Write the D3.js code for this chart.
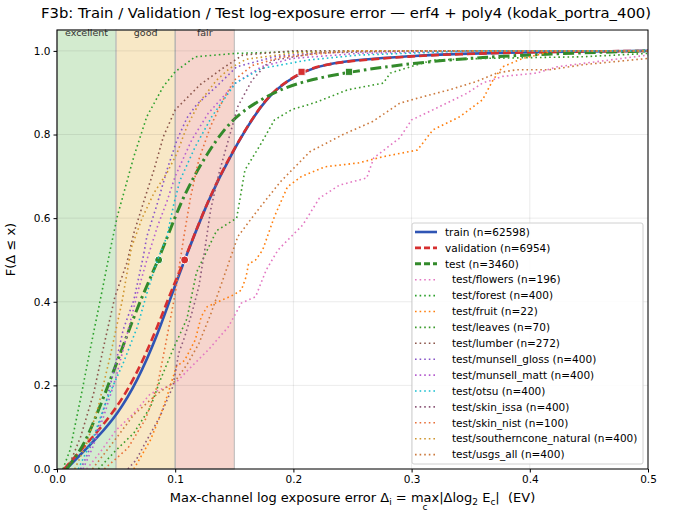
<!DOCTYPE html>
<html>
<head>
<meta charset="utf-8">
<script src="https://cdn.jsdelivr.net/npm/d3@7"></script>
<style>
body { margin: 0; background: #fff; }
svg text { font-family: "DejaVu Sans", sans-serif; }
</style>
</head>
<body>
<svg id="chart" width="690" height="525"></svg>
<script>
// quality bands (EV)
var bandNames = ["excellent", "good", "fair"];
var bandEdges = [0, 0.05, 0.10, 0.15];
var bandColors = ["#d3ebcf", "#f8e8c6", "#f6d5cd"];

var xTicks = [0, 0.1, 0.2, 0.3, 0.4, 0.5];
var yTicks = [0, 0.2, 0.4, 0.6, 0.8, 1.0];

// CDFs: [error EV, F]
var train = [[0.008,0],[0.02,0.035],[0.034,0.075],[0.051,0.13],[0.068,0.21],[0.085,0.32],[0.1,0.44],[0.108,0.5],[0.128,0.645],[0.148,0.757],[0.168,0.851],[0.184,0.908],[0.208,0.951],[0.227,0.968],[0.255,0.979],[0.3,0.988],[0.332,0.993],[0.417,0.998],[0.5,1.0]];
var validation = [[0.006,0],[0.018,0.038],[0.032,0.082],[0.049,0.14],[0.066,0.218],[0.083,0.325],[0.099,0.443],[0.108,0.5],[0.128,0.646],[0.148,0.758],[0.168,0.852],[0.184,0.909],[0.208,0.952],[0.227,0.968],[0.255,0.978],[0.3,0.987],[0.332,0.992],[0.417,0.998],[0.5,1.0]];
var test = [[0.008,0],[0.02,0.045],[0.028,0.09],[0.042,0.19],[0.056,0.295],[0.0705,0.405],[0.086,0.5],[0.1,0.605],[0.111,0.675],[0.127,0.755],[0.142,0.815],[0.156,0.855],[0.182,0.9],[0.207,0.927],[0.247,0.95],[0.304,0.972],[0.36,0.985],[0.417,0.993],[0.5,1.0]];

var flowers = [[0.025,0],[0.036,0.038],[0.05,0.093],[0.065,0.133],[0.079,0.18],[0.1,0.205],[0.112,0.24],[0.128,0.285],[0.145,0.34],[0.156,0.397],[0.168,0.412],[0.177,0.476],[0.187,0.524],[0.208,0.584],[0.222,0.648],[0.239,0.679],[0.262,0.696],[0.268,0.744],[0.29,0.792],[0.3,0.835],[0.318,0.859],[0.347,0.899],[0.36,0.923],[0.377,0.939],[0.406,0.947],[0.423,0.962],[0.445,0.97],[0.5,0.99]];
var forest = [[0.005,0],[0.011,0.045],[0.0197,0.165],[0.028,0.285],[0.0366,0.404],[0.045,0.524],[0.051,0.604],[0.065,0.747],[0.076,0.843],[0.09,0.915],[0.1,0.95],[0.117,0.986],[0.151,0.994],[0.2,0.998],[0.3,1.0],[0.5,1.0]];
var fruit = [[0.065,0],[0.079,0.069],[0.087,0.125],[0.093,0.173],[0.101,0.245],[0.108,0.26],[0.117,0.309],[0.122,0.364],[0.127,0.388],[0.134,0.397],[0.149,0.416],[0.156,0.428],[0.16,0.46],[0.162,0.49],[0.168,0.5],[0.174,0.524],[0.184,0.604],[0.195,0.675],[0.207,0.7],[0.227,0.723],[0.255,0.732],[0.276,0.747],[0.305,0.763],[0.318,0.811],[0.341,0.843],[0.36,0.883],[0.369,0.931],[0.377,0.962],[0.394,0.982],[0.406,0.99],[0.42,1.0],[0.5,1.0]];
var leaves = [[0.035,0],[0.05,0.045],[0.065,0.086],[0.079,0.148],[0.087,0.21],[0.098,0.285],[0.11,0.36],[0.118,0.47],[0.135,0.57],[0.152,0.6],[0.159,0.715],[0.173,0.78],[0.184,0.835],[0.199,0.86],[0.218,0.876],[0.246,0.907],[0.276,0.923],[0.282,0.947],[0.299,0.962],[0.318,0.978],[0.36,0.982],[0.445,0.986],[0.5,0.994]];
var lumber = [[0.005,0],[0.011,0.014],[0.02,0.077],[0.031,0.181],[0.0395,0.293],[0.049,0.412],[0.059,0.492],[0.065,0.564],[0.073,0.636],[0.082,0.715],[0.09,0.795],[0.1,0.859],[0.121,0.919],[0.14,0.958],[0.157,0.99],[0.2,1.0],[0.5,1.0]];
var munsellGloss = [[0.02,0],[0.025,0.03],[0.034,0.093],[0.042,0.165],[0.051,0.269],[0.056,0.333],[0.065,0.404],[0.073,0.508],[0.076,0.556],[0.085,0.636],[0.093,0.715],[0.1015,0.787],[0.11,0.84],[0.118,0.871],[0.135,0.915],[0.152,0.962],[0.184,0.986],[0.227,0.998],[0.3,1.0],[0.5,1.0]];
var munsellMatt = [[0.022,0],[0.03,0.05],[0.04,0.13],[0.05,0.22],[0.06,0.33],[0.068,0.42],[0.076,0.5],[0.085,0.58],[0.093,0.64],[0.1,0.7],[0.114,0.787],[0.128,0.851],[0.151,0.923],[0.173,0.962],[0.199,0.982],[0.255,0.994],[0.35,1.0],[0.5,1.0]];
var otsu = [[0.018,0],[0.023,0.03],[0.031,0.077],[0.042,0.165],[0.056,0.253],[0.068,0.34],[0.076,0.42],[0.085,0.5],[0.093,0.556],[0.099,0.636],[0.104,0.69],[0.117,0.771],[0.131,0.843],[0.151,0.923],[0.173,0.958],[0.212,0.978],[0.255,0.99],[0.35,1.0],[0.5,1.0]];
var skinIssa = [[0.06,0],[0.067,0.022],[0.076,0.069],[0.087,0.125],[0.098,0.197],[0.103,0.277],[0.108,0.316],[0.114,0.372],[0.12,0.436],[0.125,0.524],[0.13,0.62],[0.137,0.707],[0.145,0.787],[0.153,0.867],[0.165,0.93],[0.177,0.967],[0.184,0.978],[0.22,0.995],[0.3,1.0],[0.5,1.0]];
var skinNist = [[0.04,0],[0.06,0.05],[0.075,0.12],[0.085,0.2],[0.092,0.3],[0.1,0.42],[0.107,0.55],[0.113,0.65],[0.12,0.74],[0.13,0.82],[0.14,0.88],[0.15,0.93],[0.165,0.965],[0.19,0.985],[0.25,1.0],[0.5,1.0]];
var southernconeNatural = [[0.015,0],[0.025,0.06],[0.035,0.15],[0.045,0.27],[0.055,0.4],[0.063,0.53],[0.072,0.6],[0.082,0.66],[0.093,0.708],[0.1015,0.755],[0.11,0.82],[0.121,0.879],[0.135,0.93],[0.146,0.958],[0.16,0.98],[0.2,0.995],[0.25,1.0],[0.5,1.0]];
var usgsAll = [[0.03,0],[0.051,0.077],[0.065,0.13],[0.085,0.18],[0.1,0.21],[0.11,0.25],[0.12,0.3],[0.13,0.37],[0.14,0.45],[0.153,0.556],[0.169,0.616],[0.189,0.687],[0.214,0.759],[0.242,0.8],[0.267,0.831],[0.29,0.875],[0.305,0.887],[0.332,0.907],[0.355,0.927],[0.372,0.947],[0.389,0.955],[0.417,0.955],[0.445,0.967],[0.5,0.982]];

var mainSeries = [
	{label: "train (n=62598)", data: train, color: "#2f55b4", dash: null, width: 2.6},
	{label: "validation (n=6954)", data: validation, color: "#d62f2f", dash: "8,4", width: 2.6},
	{label: "test (n=3460)", data: test, color: "#338a2b", dash: "11,4,2.5,4", width: 3}
];
var subSeries = [
	{label: "test/flowers (n=196)", data: flowers, color: "#e377c2"},
	{label: "test/forest (n=400)", data: forest, color: "#2ca02c"},
	{label: "test/fruit (n=22)", data: fruit, color: "#ff7f0e"},
	{label: "test/leaves (n=70)", data: leaves, color: "#3a9a2a"},
	{label: "test/lumber (n=272)", data: lumber, color: "#8c564b"},
	{label: "test/munsell_gloss (n=400)", data: munsellGloss, color: "#8855c8"},
	{label: "test/munsell_matt (n=400)", data: munsellMatt, color: "#b65fcf"},
	{label: "test/otsu (n=400)", data: otsu, color: "#17becf"},
	{label: "test/skin_issa (n=400)", data: skinIssa, color: "#8e5a7a"},
	{label: "test/skin_nist (n=100)", data: skinNist, color: "#e8703a"},
	{label: "test/southerncone_natural (n=400)", data: southernconeNatural, color: "#d0962f"},
	{label: "test/usgs_all (n=400)", data: usgsAll, color: "#cc7a3e"}
];

var svg = d3.select("#chart"),
	margin = {top: 30, right: 42, bottom: 56, left: 57},
	width = +svg.attr("width") - margin.left - margin.right,
	height = +svg.attr("height") - margin.top - margin.bottom;

var g = svg.append("g").attr("transform", "translate(" + margin.left + "," + margin.top + ")");

var xScale = d3.scaleLinear().domain([0, 0.5]).range([0, width]),
	yScale = d3.scaleLinear().domain([0, 1.05]).range([height, 0]);

svg.append("clipPath").attr("id", "clip").append("rect").attr("width", width).attr("height", height);

// bands
bandNames.forEach(function(name, i) {
	g.append("rect")
		.attr("x", xScale(bandEdges[i]))
		.attr("y", 0)
		.attr("width", xScale(bandEdges[i + 1]) - xScale(bandEdges[i]))
		.attr("height", height)
		.attr("fill", bandColors[i])
		.attr("stroke", "#b8b8b8")
		.attr("stroke-width", 1);
	g.append("text")
		.attr("x", xScale((bandEdges[i] + bandEdges[i + 1]) / 2))
		.attr("y", 5.5)
		.attr("text-anchor", "middle")
		.style("font-size", "9.5px")
		.attr("fill", "#333")
		.text(name);
});

// grid
g.selectAll(".gx").data(xTicks).enter().append("line")
	.attr("x1", function(d) { return xScale(d); }).attr("x2", function(d) { return xScale(d); })
	.attr("y1", 0).attr("y2", height)
	.attr("stroke", "#000").attr("stroke-opacity", 0.1).attr("stroke-width", 0.8);
g.selectAll(".gy").data(yTicks).enter().append("line")
	.attr("y1", function(d) { return yScale(d); }).attr("y2", function(d) { return yScale(d); })
	.attr("x1", 0).attr("x2", width)
	.attr("stroke", "#000").attr("stroke-opacity", 0.1).attr("stroke-width", 0.8);

var line = d3.line()
	.x(function(d) { return xScale(d[0]); })
	.y(function(d) { return yScale(d[1]); });
var smooth = d3.line()
	.curve(d3.curveBasis)
	.x(function(d) { return xScale(d[0]); })
	.y(function(d) { return yScale(d[1]); });

var plot = g.append("g").attr("clip-path", "url(#clip)");

// x where F crosses q
function quantile(data, q) {
	for (var i = 1; i < data.length; i++) {
		if (data[i][1] >= q) {
			var a = data[i - 1], b = data[i];
			return a[0] + (q - a[1]) / (b[1] - a[1]) * (b[0] - a[0]);
		}
	}
	return data[data.length - 1][0];
}

mainSeries.forEach(function(s) {
	plot.append("path")
		.attr("d", smooth(s.data))
		.attr("fill", "none")
		.attr("stroke", s.color)
		.attr("stroke-width", s.width)
		.attr("stroke-dasharray", s.dash);
	var med = quantile(s.data, 0.5), q95 = quantile(s.data, 0.95);
	plot.append("circle")
		.attr("cx", xScale(med)).attr("cy", yScale(0.5)).attr("r", 4)
		.attr("fill", s.color).attr("stroke", "#fff").attr("stroke-width", 1);
	plot.append("rect")
		.attr("x", xScale(q95) - 3.5).attr("y", yScale(0.95) - 3.5)
		.attr("width", 7).attr("height", 7)
		.attr("fill", s.color).attr("stroke", "#fff").attr("stroke-width", 0.8);
});

subSeries.forEach(function(s) {
	plot.append("path")
		.attr("d", line(s.data))
		.attr("fill", "none")
		.attr("stroke", s.color)
		.attr("stroke-width", 1.6)
		.attr("stroke-dasharray", "1.6,3");
});

// axes
var xAxis = g.append("g")
	.attr("transform", "translate(0," + height + ")")
	.call(d3.axisBottom(xScale).tickValues(xTicks).tickFormat(d3.format(".1f")).tickSizeOuter(0).tickSize(3.5));
var yAxis = g.append("g")
	.call(d3.axisLeft(yScale).tickValues(yTicks).tickFormat(d3.format(".1f")).tickSizeOuter(0).tickSize(3.5));
[xAxis, yAxis].forEach(function(a) {
	a.select(".domain").remove();
	a.selectAll("text").style("font-size", "10.5px").attr("fill", "#000");
	a.selectAll("line").attr("stroke", "#000");
});
g.append("rect")
	.attr("width", width).attr("height", height)
	.attr("fill", "none").attr("stroke", "#000").attr("stroke-width", 1);

// legend
var legend = g.append("g").attr("transform", "translate(355,193)");
legend.append("rect")
	.attr("width", 231).attr("height", 241).attr("rx", 2)
	.attr("fill", "#fff").attr("fill-opacity", 0.85)
	.attr("stroke", "#d0d0d0");
var entries = mainSeries.map(function(s) { return {label: s.label, color: s.color, dash: s.dash, width: s.width, main: true}; })
	.concat(subSeries.map(function(s) { return {label: s.label, color: s.color, dash: "1.6,3", width: 1.6, main: false}; }));
entries.forEach(function(e, i) {
	var y = 9 + i * 15.9;
	legend.append("line")
		.attr("x1", 3).attr("x2", 25).attr("y1", y).attr("y2", y)
		.attr("stroke", e.color).attr("stroke-width", e.width)
		.attr("stroke-dasharray", e.main && e.dash ? "6,3" : e.dash);
	legend.append("text")
		.attr("x", e.main ? 33 : 40).attr("y", y + 3.7)
		.style("font-size", "10.5px")
		.text(e.label);
});

// titles
svg.append("text")
	.attr("x", 346).attr("y", 18)
	.attr("text-anchor", "middle")
	.style("font-size", "14.8px")
	.text("F3b: Train / Validation / Test log-exposure error — erf4 + poly4 (kodak_portra_400)");

svg.append("text")
	.attr("transform", "translate(15," + (margin.top + height / 2) + ") rotate(-90)")
	.attr("text-anchor", "middle")
	.style("font-size", "13px")
	.text("F(Δ ≤ x)");

var xl = svg.append("text")
	.attr("x", margin.left + width / 2).attr("y", 502)
	.attr("text-anchor", "middle")
	.style("font-size", "13px")
	.style("white-space", "pre");
xl.append("tspan").text("Max-channel log exposure error Δ");
xl.append("tspan").attr("dy", 3).style("font-size", "9px").text("i");
xl.append("tspan").attr("dy", -3).text(" = max|Δlog");
xl.append("tspan").attr("dy", 3).style("font-size", "9px").text("2");
xl.append("tspan").attr("dy", -3).text(" E");
xl.append("tspan").attr("dy", 3).style("font-size", "9px").text("c");
xl.append("tspan").attr("dy", -3).text("|  (EV)");
// subscript c under "max"
var full = xl.text();
var iM = full.indexOf("max");
var x0 = xl.node().getStartPositionOfChar(iM).x,
	x1 = xl.node().getEndPositionOfChar(iM + 2).x;
svg.append("text")
	.attr("x", (x0 + x1) / 2).attr("y", 510)
	.attr("text-anchor", "middle")
	.style("font-size", "9px")
	.text("c");
</script>
</body>
</html>
